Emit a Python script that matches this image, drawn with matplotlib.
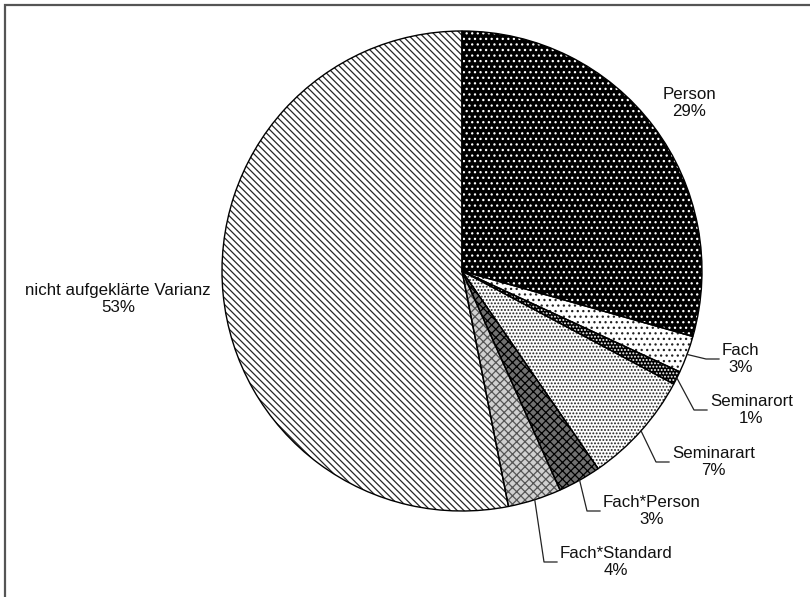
import matplotlib.pyplot as plt
from matplotlib.patches import Rectangle
import numpy as np

plt.rcParams['font.family'] = ['Liberation Sans', 'DejaVu Sans']
plt.rcParams['hatch.linewidth'] = 0.9

# Daten
kategorien = ['Person', 'Fach', 'Seminarort', 'Seminarart',
              'Fach*Person', 'Fach*Standard', 'nicht aufgeklärte Varianz']
anteile = [29.4, 2.5, 0.9, 7.6, 2.9, 3.6, 53.1]
prozent = ['29%', '3%', '1%', '7%', '3%', '4%', '53%']

# Muster je Segment: Fläche, Schraffur, Schraffurfarbe
flaechen = ['black', 'white', 'black', 'white', '#707070', '#d0d0d0', 'white']
muster = ['...', '...', '.....', '.....', 'xxxx', 'xxxx', '\\\\\\\\\\']
musterfarben = ['white', '#222222', 'white', '#222222', 'black', '#555555', '#262626']

# Beschriftungen in Pixeln (x, y von oben); mit_linie -> x ist linker Rand
label_x = [689, 722, 710, 672, 603, 560, 118]
label_y = [103, 359, 410, 462, 511, 562, 299]
mit_linie = [False, True, True, True, True, True, False]

B, H = 810, 597
mitte = (462, H - 271)
radius = 240

fig = plt.figure(figsize=(B / 100, H / 100), dpi=100)
ax = fig.add_axes([0, 0, 1, 1])

# Schraffierte Flächen
keile, _ = ax.pie(anteile, startangle=90, counterclock=False,
                  center=mitte, radius=radius,
                  wedgeprops=dict(linewidth=0))
for w, f, m, mf in zip(keile, flaechen, muster, musterfarben):
    w.set_facecolor(f)
    w.set_hatch(m)
    w.set_edgecolor(mf)

# Umrisse
ax.pie(anteile, startangle=90, counterclock=False,
       center=mitte, radius=radius,
       wedgeprops=dict(fill=False, edgecolor='black', linewidth=1.0))

for i, w in enumerate(keile):
    text = kategorien[i] + '\n' + prozent[i]
    y = H - label_y[i]
    if mit_linie[i]:
        winkel = np.deg2rad((w.theta1 + w.theta2) / 2)
        x0 = mitte[0] + radius * np.cos(winkel)
        y0 = mitte[1] + radius * np.sin(winkel)
        ax.plot([x0, label_x[i] - 16, label_x[i] - 3], [y0, y, y],
                color='#222222', linewidth=0.9)
        ax.text(label_x[i], y, text, ha='left', va='center',
                multialignment='center', fontsize=12.2, color='#111111')
    else:
        ax.text(label_x[i], y, text, ha='center', va='center',
                multialignment='center', fontsize=12.2, color='#111111')

ax.set_xlim(0, B)
ax.set_ylim(0, H)
ax.set_aspect('equal')
ax.axis('off')

# Rahmen (nur oben und links sichtbar)
fig.add_artist(Rectangle((5 / B, -0.05), 1.1, 1.05 - 5 / H,
                         transform=fig.transFigure, fill=False,
                         edgecolor='#555555', linewidth=1.6))

fig.savefig('out.png', dpi=100)
